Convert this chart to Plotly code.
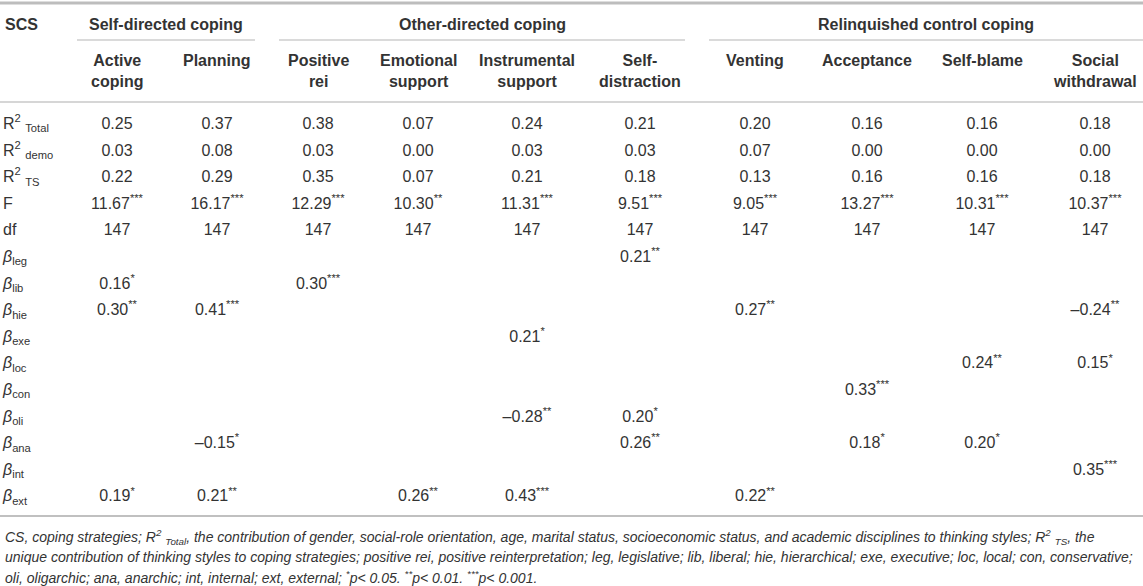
import plotly.graph_objects as go

# column headers and groups
columns = ["Active<br>coping", "Planning", "Positive<br>rei", "Emotional<br>support",
           "Instrumental<br>support", "Self-<br>distraction", "Venting", "Acceptance",
           "Self-blame", "Social<br>withdrawal"]
groups = ["Self-directed coping", "Other-directed coping", "Relinquished control coping"]

row_labels = [
    "R<sup>2</sup> <sub>Total</sub>", "R<sup>2</sup> <sub>demo</sub>", "R<sup>2</sup> <sub>TS</sub>",
    "F", "df",
    "<i>β</i><sub>leg</sub>", "<i>β</i><sub>lib</sub>", "<i>β</i><sub>hie</sub>",
    "<i>β</i><sub>exe</sub>", "<i>β</i><sub>loc</sub>", "<i>β</i><sub>con</sub>",
    "<i>β</i><sub>oli</sub>", "<i>β</i><sub>ana</sub>", "<i>β</i><sub>int</sub>",
    "<i>β</i><sub>ext</sub>",
]

r2_total = [0.25, 0.37, 0.38, 0.07, 0.24, 0.21, 0.20, 0.16, 0.16, 0.18]
r2_demo = [0.03, 0.08, 0.03, 0.00, 0.03, 0.03, 0.07, 0.00, 0.00, 0.00]
r2_ts = [0.22, 0.29, 0.35, 0.07, 0.21, 0.18, 0.13, 0.16, 0.16, 0.18]
f_val = [11.67, 16.17, 12.29, 10.30, 11.31, 9.51, 9.05, 13.27, 10.31, 10.37]
f_sig = ["***", "***", "***", "**", "***", "***", "***", "***", "***", "***"]
df_val = [147, 147, 147, 147, 147, 147, 147, 147, 147, 147]

N = None
beta_leg = [N, N, N, N, N, 0.21, N, N, N, N]
beta_leg_sig = ["", "", "", "", "", "**", "", "", "", ""]
beta_lib = [0.16, N, 0.30, N, N, N, N, N, N, N]
beta_lib_sig = ["*", "", "***", "", "", "", "", "", "", ""]
beta_hie = [0.30, 0.41, N, N, N, N, 0.27, N, N, -0.24]
beta_hie_sig = ["**", "***", "", "", "", "", "**", "", "", "**"]
beta_exe = [N, N, N, N, 0.21, N, N, N, N, N]
beta_exe_sig = ["", "", "", "", "*", "", "", "", "", ""]
beta_loc = [N, N, N, N, N, N, N, N, 0.24, 0.15]
beta_loc_sig = ["", "", "", "", "", "", "", "", "**", "*"]
beta_con = [N, N, N, N, N, N, N, 0.33, N, N]
beta_con_sig = ["", "", "", "", "", "", "", "***", "", ""]
beta_oli = [N, N, N, N, -0.28, 0.20, N, N, N, N]
beta_oli_sig = ["", "", "", "", "**", "*", "", "", "", ""]
beta_ana = [N, -0.15, N, N, N, 0.26, N, 0.18, 0.20, N]
beta_ana_sig = ["", "*", "", "", "", "**", "", "*", "*", ""]
beta_int = [N, N, N, N, N, N, N, N, N, 0.35]
beta_int_sig = ["", "", "", "", "", "", "", "", "", "***"]
beta_ext = [0.19, 0.21, N, 0.26, 0.43, N, 0.22, N, N, N]
beta_ext_sig = ["*", "**", "", "**", "***", "", "**", "", "", ""]

footnote = [
    "CS, coping strategies; R<sup>2</sup> <sub>Total</sub>, the contribution of gender, social-role orientation, "
    "age, marital status, socioeconomic status, and academic disciplines to thinking styles; R<sup>2</sup> <sub>TS</sub>, the",
    "unique contribution of thinking styles to coping strategies; positive rei, positive reinterpretation; leg, legislative; "
    "lib, liberal; hie, hierarchical; exe, executive; loc, local; con, conservative;",
    "oli, oligarchic; ana, anarchic; int, internal; ext, external; <sup>*</sup>p< 0.05. <sup>**</sup>p< 0.01. "
    "<sup>***</sup>p< 0.001.",
]


def fmt(v, sig=""):
    if v is None:
        return ""
    s = f"{abs(v):.2f}"
    if v < 0:
        s = "–" + s
    if sig:
        s += f"<sup>{sig}</sup>"
    return s


rows = [
    [fmt(v) for v in r2_total],
    [fmt(v) for v in r2_demo],
    [fmt(v) for v in r2_ts],
    [fmt(v, s) for v, s in zip(f_val, f_sig)],
    [str(v) for v in df_val],
]
for vals, sigs in [(beta_leg, beta_leg_sig), (beta_lib, beta_lib_sig), (beta_hie, beta_hie_sig),
                   (beta_exe, beta_exe_sig), (beta_loc, beta_loc_sig), (beta_con, beta_con_sig),
                   (beta_oli, beta_oli_sig), (beta_ana, beta_ana_sig), (beta_int, beta_int_sig),
                   (beta_ext, beta_ext_sig)]:
    rows.append([fmt(v, s) for v, s in zip(vals, sigs)])

# layout (pixel-like axes, y grows downward)
W, H = 1143, 586
col_x = [117, 217, 318, 418, 527, 640, 755, 867, 982, 1095]
group_span = [(77, 255), (279, 685), (709, 1143)]
row_y0, row_step = 125, 26.6
text_color = "#333333"
font = "Liberation Sans, Arial, Helvetica, sans-serif"
fsize = 16

fig = go.Figure()

xs, ys, texts = [], [], []
for i, row in enumerate(rows):
    for j, t in enumerate(row):
        if t:
            xs.append(col_x[j])
            ys.append(row_y0 + i * row_step)
            texts.append(t)
fig.add_trace(go.Scatter(
    x=xs, y=ys, text=texts, mode="text", textposition="middle center",
    textfont=dict(family=font, size=fsize, color=text_color), hoverinfo="skip",
))

# row labels
fig.add_trace(go.Scatter(
    x=[3] * len(row_labels), y=[row_y0 + i * row_step for i in range(len(row_labels))],
    text=row_labels, mode="text", textposition="middle right",
    textfont=dict(family=font, size=fsize, color=text_color), hoverinfo="skip",
))

annotations = [dict(x=3, y=24, text="<b>SCS</b>", xanchor="left", yanchor="middle")]
for g, (a, b) in zip(groups, group_span):
    annotations.append(dict(x=(a + b) / 2, y=24, text=f"<b>{g}</b>", xanchor="center", yanchor="middle"))
for j, c in enumerate(columns):
    annotations.append(dict(x=col_x[j], y=50, text=f"<b>{c}</b>", xanchor="center", yanchor="top", align="center"))
for k, line in enumerate(footnote):
    annotations.append(dict(x=3, y=537 + k * 20, text=f"<i>{line}</i>", xanchor="left", yanchor="middle",
                            font=dict(family=font, size=14, color=text_color)))
for a in annotations:
    a.setdefault("font", dict(family=font, size=fsize, color=text_color))
    a.update(xref="x", yref="y", showarrow=False)

shapes = [
    dict(type="line", x0=0, x1=W, y0=3, y1=3, line=dict(color="#bdbdbd", width=3)),
    dict(type="line", x0=0, x1=W, y0=102, y1=102, line=dict(color="#c8c8c8", width=1.5)),
    dict(type="line", x0=0, x1=W, y0=516, y1=516, line=dict(color="#c0c0c0", width=2)),
]
for a, b in group_span:
    shapes.append(dict(type="line", x0=a, x1=b, y0=40, y1=40, line=dict(color="#b5b5b5", width=1.2)))
for s in shapes:
    s.update(xref="x", yref="y", layer="below")

fig.update_layout(
    width=W, height=H, margin=dict(l=0, r=0, t=0, b=0),
    paper_bgcolor="white", plot_bgcolor="white", showlegend=False,
    xaxis=dict(range=[0, W], visible=False, fixedrange=True),
    yaxis=dict(range=[H, 0], visible=False, fixedrange=True),
    annotations=annotations, shapes=shapes,
)

# drop the default page margin so the figure sits at the window's corner
fig.write_html("out.html", config={"displayModeBar": False},
               post_script="document.body.style.margin='0';document.body.style.overflow='hidden';")
